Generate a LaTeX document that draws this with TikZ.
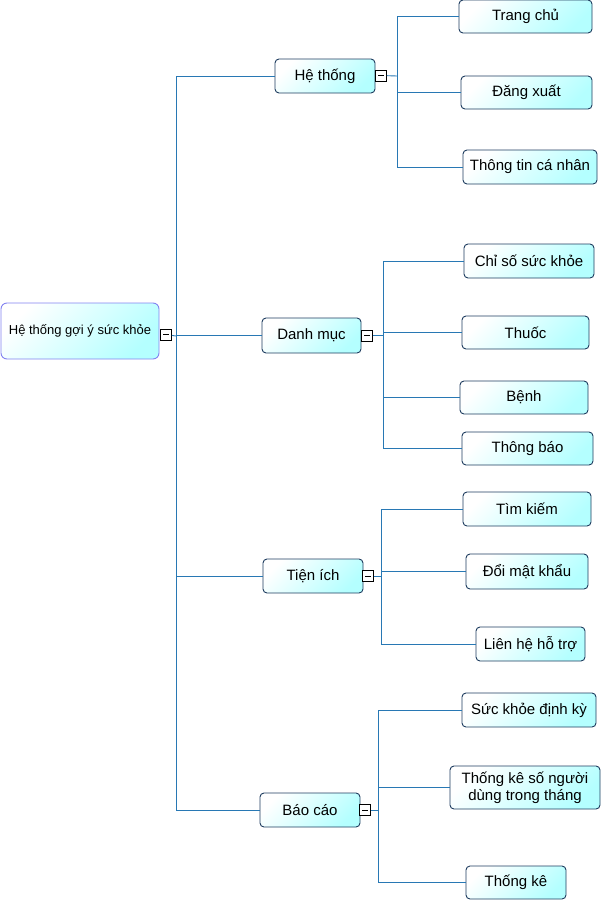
\documentclass[tikz,border=0pt]{standalone}
\usepackage{fontspec}
\setmainfont{Liberation Sans}
\usepackage{xcolor}
\usepackage{tikz}
\usetikzlibrary{positioning}

\definecolor{linkblue}{RGB}{40,120,180}
\definecolor{boxedge}{RGB}{30,60,95}
\definecolor{rootedge}{RGB}{130,130,240}
\definecolor{boxcyan}{RGB}{180,255,255}

\begin{document}
\begin{tikzpicture}[x=1pt, y=-1pt,
    topic/.style={draw=boxedge, line width=0.9pt, rounded corners=4pt, inner sep=0pt,
        top color=white, bottom color=boxcyan, shading angle=45,
        font=\fontsize{15}{17}\selectfont, align=center},
    roottopic/.style={topic, draw=rootedge, rounded corners=6pt,
        font=\fontsize{13}{15}\selectfont},
    toggle/.style={draw=black, fill=white, line width=0.7pt, minimum size=11pt, inner sep=0pt,
        path picture={\draw[line width=0.7pt] ([xshift=2.5pt]path picture bounding box.west) -- ([xshift=-2.5pt]path picture bounding box.east);}},
    link/.style={draw=linkblue, line width=0.9pt}]
    \useasboundingbox (0,0) rectangle (602,900);

    % Root
    \node[roottopic, minimum width=158pt, minimum height=56pt] (root) at (80,331) {Hệ thống gợi ý sức khỏe};
    \node[toggle] (roottg) at (166,334.5) {};
    \coordinate (trunk) at (176,336);

    % Level one
    \node[topic, minimum width=100pt, minimum height=34pt] (hethong) at (325,76) {Hệ thống};
    \node[topic, minimum width=99pt, minimum height=35pt] (danhmuc) at (311.5,335.5) {Danh mục};
    \node[topic, minimum width=100pt, minimum height=34pt] (tienich) at (313,576) {Tiện ích};
    \node[topic, minimum width=100pt, minimum height=34pt] (baocao) at (310,810) {Báo cáo};

    \node[toggle] (hethongtg) at (381,75.5) {};
    \node[toggle] (danhmuctg) at (367,335.5) {};
    \node[toggle] (tienichtg) at (368,576) {};
    \node[toggle] (baocaotg) at (365,810) {};

    \coordinate (hethongbus) at (397,76);
    \coordinate (danhmucbus) at (383,335.5);
    \coordinate (tienichbus) at (381,576);
    \coordinate (baocaobus) at (378,810);

    % Level two: He thong
    \node[topic, minimum width=133pt, minimum height=33pt] (trangchu) at (525.5,16.5) {Trang chủ};
    \node[topic, minimum width=131pt, minimum height=33pt] (dangxuat) at (526.5,92.5) {Đăng xuất};
    \node[topic, minimum width=134pt, minimum height=34pt] (thongtin) at (530,167) {Thông tin cá nhân};

    % Level two: Danh muc
    \node[topic, minimum width=130pt, minimum height=34pt] (chiso) at (529,261) {Chỉ số sức khỏe};
    \node[topic, minimum width=127pt, minimum height=33pt] (thuoc) at (525.5,332.5) {Thuốc};
    \node[topic, minimum width=128pt, minimum height=33pt] (benh) at (524,397.5) {Bệnh};
    \node[topic, minimum width=131pt, minimum height=33pt] (thongbao) at (527.5,448.5) {Thông báo};

    % Level two: Tien ich
    \node[topic, minimum width=128pt, minimum height=34pt] (timkiem) at (527,509) {Tìm kiếm};
    \node[topic, minimum width=122pt, minimum height=35pt] (doimk) at (527,571.5) {Đổi mật khẩu};
    \node[topic, minimum width=109pt, minimum height=34pt] (lienhe) at (530.5,644) {Liên hệ hỗ trợ};

    % Level two: Bao cao
    \node[topic, minimum width=134pt, minimum height=34pt] (dinhky) at (529,710) {Sức khỏe định kỳ};
    \node[topic, minimum width=150pt, minimum height=43pt] (songuoi) at (525,787.5) {Thống kê số người\\dùng trong tháng};
    \node[topic, minimum width=100pt, minimum height=33pt] (thongke) at (516,882.5) {Thống kê};

    % Connectors
    \draw[link] (roottg) -- (trunk);
    \foreach \n in {hethong, danhmuc, tienich, baocao}
        \draw[link] (trunk) |- (\n.west);

    \foreach \n/\c in {hethong/trangchu, hethong/dangxuat, hethong/thongtin,
                      danhmuc/chiso, danhmuc/thuoc, danhmuc/benh, danhmuc/thongbao,
                      tienich/timkiem, tienich/doimk, tienich/lienhe,
                      baocao/dinhky, baocao/songuoi, baocao/thongke}
        \draw[link] (\n bus) |- (\c.west);

    \foreach \n in {hethong, danhmuc, tienich, baocao}
        \draw[link] (\n tg) -- (\n bus);
\end{tikzpicture}
\end{document}
